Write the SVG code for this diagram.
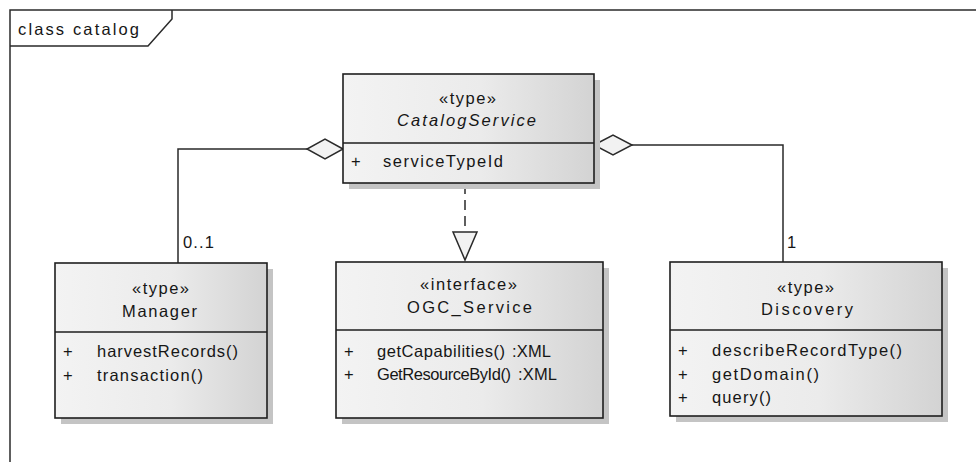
<svg xmlns="http://www.w3.org/2000/svg" width="976" height="462" viewBox="0 0 976 462">
  <defs>
    <linearGradient id="boxFill" x1="0" y1="0" x2="1" y2="0">
      <stop offset="0" stop-color="#f3f3f3"/>
      <stop offset="0.55" stop-color="#ebebeb"/>
      <stop offset="1" stop-color="#d3d3d3"/>
    </linearGradient>
  </defs>
  <style>
    .frame { fill: none; stroke: #2a2a2a; stroke-width: 1.5; }
    .shadow { fill: #c4c4c4; }
    .box { fill: url(#boxFill); stroke: #1e1e1e; stroke-width: 1.6; }
    .sep { stroke: #1e1e1e; stroke-width: 1.6; }
    .line { fill: none; stroke: #2a2a2a; stroke-width: 1.5; }
    .dash { fill: none; stroke: #2a2a2a; stroke-width: 1.5; stroke-dasharray: 10 6; }
    .head { fill: #f2f2f2; stroke: #2a2a2a; stroke-width: 1.5; }
    text { font-family: "Liberation Sans", "DejaVu Sans", sans-serif; font-size: 16.5px; fill: #161616; }
    .it { font-style: italic; }
  </style>

  <rect width="976" height="462" fill="#ffffff"/>

  <!-- diagram frame with name tab -->
  <g id="frame">
    <path class="frame" d="M10,462 L10,10 L976,10"/>
    <path class="frame" d="M10,46 L148,46 L172,19 L172,10"/>
    <text x="18" y="35" textLength="121" lengthAdjust="spacing">class catalog</text>
  </g>

  <!-- connectors -->
  <g id="connectors">
    <polyline class="line" points="307,149 178,149 178,263"/>
    <polygon class="head" points="343,149 325,139 307,149 325,159"/>
    <polyline class="line" points="632,145 783,145 783,262"/>
    <polygon class="head" points="594,145 613,135 632,145 613,155"/>
    <line class="dash" x1="465" y1="184" x2="465" y2="232"/>
    <polygon class="head" points="453,232 477,232 465,260" fill="#ffffff"/>
    <text x="183" y="248" textLength="31" lengthAdjust="spacing">0..1</text>
    <text x="787" y="248">1</text>
  </g>

  <!-- CatalogService -->
  <g id="CatalogService">
    <rect class="shadow" x="349" y="80" width="251" height="109"/>
    <rect class="box" x="343" y="74" width="251" height="109"/>
    <line class="sep" x1="343" y1="143" x2="594" y2="143"/>
    <text x="439" y="104" textLength="57" lengthAdjust="spacing">«type»</text>
    <text class="it" x="397" y="126" textLength="139" lengthAdjust="spacing">CatalogService</text>
    <text x="351" y="167">+</text>
    <text x="383" y="167" textLength="120" lengthAdjust="spacing">serviceTypeId</text>
  </g>

  <!-- Manager -->
  <g id="Manager">
    <rect class="shadow" x="61" y="269" width="212" height="155"/>
    <rect class="box" x="55" y="263" width="212" height="155"/>
    <line class="sep" x1="55" y1="332" x2="267" y2="332"/>
    <text x="132" y="294" textLength="57" lengthAdjust="spacing">«type»</text>
    <text x="122" y="317" textLength="75" lengthAdjust="spacing">Manager</text>
    <text x="63" y="357">+</text>
    <text x="97" y="357" textLength="141" lengthAdjust="spacing">harvestRecords()</text>
    <text x="63" y="381">+</text>
    <text x="97" y="381" textLength="106" lengthAdjust="spacing">transaction()</text>
  </g>

  <!-- OGC_Service -->
  <g id="OGC_Service">
    <rect class="shadow" x="342" y="268" width="267" height="156"/>
    <rect class="box" x="336" y="262" width="267" height="156"/>
    <line class="sep" x1="336" y1="330" x2="603" y2="330"/>
    <text x="420" y="290" textLength="97" lengthAdjust="spacing">«interface»</text>
    <text x="407" y="313" textLength="125" lengthAdjust="spacing">OGC_Service</text>
    <text x="344" y="357">+</text>
    <text x="377" y="357" textLength="128" lengthAdjust="spacing">getCapabilities()</text>
    <text x="512" y="357" textLength="39" lengthAdjust="spacing">:XML</text>
    <text x="344" y="380">+</text>
    <text x="377" y="380" textLength="134" lengthAdjust="spacing">GetResourceById()</text>
    <text x="518" y="380" textLength="39" lengthAdjust="spacing">:XML</text>
  </g>

  <!-- Discovery -->
  <g id="Discovery">
    <rect class="shadow" x="676" y="268" width="272" height="154"/>
    <rect class="box" x="670" y="262" width="272" height="154"/>
    <line class="sep" x1="670" y1="330" x2="942" y2="330"/>
    <text x="777" y="293" textLength="57" lengthAdjust="spacing">«type»</text>
    <text x="761" y="315" textLength="92" lengthAdjust="spacing">Discovery</text>
    <text x="678" y="356">+</text>
    <text x="712" y="356" textLength="190" lengthAdjust="spacing">describeRecordType()</text>
    <text x="678" y="380">+</text>
    <text x="712" y="380" textLength="107" lengthAdjust="spacing">getDomain()</text>
    <text x="678" y="403">+</text>
    <text x="712" y="403" textLength="59" lengthAdjust="spacing">query()</text>
  </g>
</svg>
